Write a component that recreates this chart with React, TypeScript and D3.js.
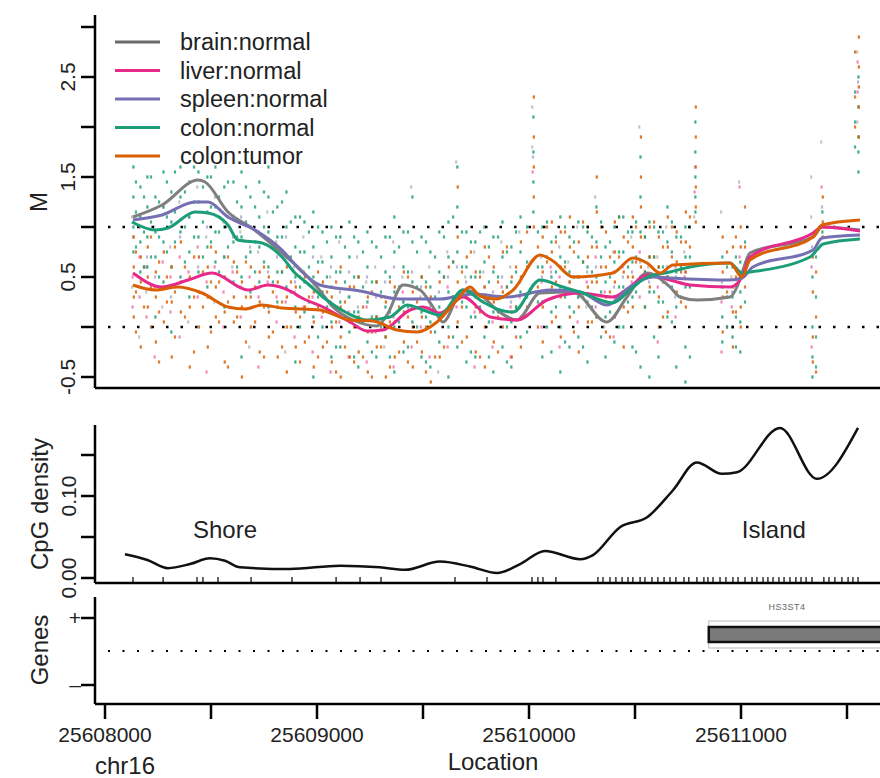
import React from 'react';
import * as d3 from 'd3';

// ---------- axis ticks ----------
const X_TICKS = [25608000, 25608500, 25609000, 25609500, 25610000, 25610500, 25611000, 25611500];
const X_TICK_LABELS = ['25608000', '', '25609000', '', '25610000', '', '25611000', ''];
const M_TICKS = [-0.5, 0, 0.5, 1, 1.5, 2, 2.5, 3];
const M_TICK_LABELS = ['-0.5', '', '0.5', '', '1.5', '', '2.5', ''];
const M_REF_LINES = [0, 1];
const D_TICKS = [0, 0.05, 0.1, 0.15];
const D_TICK_LABELS = ['0.00', '', '0.10', ''];

// ---------- series ----------
const SERIES_NAMES = ['brain:normal', 'liver:normal', 'spleen:normal', 'colon:normal', 'colon:tumor'];
const SERIES_COLORS = ['#7f7f7f', '#e7298a', '#7570b3', '#1b9e77', '#d95f02'];

// smoothed methylation lines: [position, M]
const BRAIN = [[25608132,1.10],[25608269,1.22],[25608439,1.47],[25608472,1.45],[25608580,1.15],[25608693,0.99],[25608835,0.74],[25608920,0.58],[25609000,0.40],[25609075,0.20],[25609170,0.07],[25609283,0.01],[25609330,0.12],[25609406,0.42],[25609486,0.37],[25609547,0.20],[25609594,0.05],[25609689,0.37],[25609783,0.30],[25609849,0.17],[25609943,0.07],[25610052,0.34],[25610208,0.35],[25610368,0.05],[25610462,0.30],[25610557,0.54],[25610665,0.40],[25610712,0.30],[25610792,0.27],[25610948,0.30],[25610981,0.40],[25611005,0.54],[25611042,0.74],[25611340,0.90],[25611382,1.00],[25611561,0.97]];
const LIVER = [[25608132,0.54],[25608269,0.40],[25608392,0.47],[25608505,0.54],[25608675,0.37],[25608769,0.42],[25608882,0.35],[25608920,0.30],[25609028,0.20],[25609156,0.05],[25609236,-0.04],[25609311,-0.03],[25609439,0.17],[25609500,0.20],[25609580,0.14],[25609689,0.30],[25609816,0.10],[25609943,0.07],[25610085,0.27],[25610241,0.34],[25610396,0.30],[25610476,0.40],[25610557,0.52],[25610665,0.47],[25610759,0.42],[25610948,0.40],[25611005,0.50],[25611042,0.70],[25611340,0.94],[25611382,1.00],[25611561,0.96]];
const SPLEEN = [[25608132,1.07],[25608269,1.12],[25608425,1.25],[25608486,1.25],[25608580,1.10],[25608708,0.97],[25608835,0.77],[25608920,0.57],[25609014,0.42],[25609203,0.36],[25609392,0.28],[25609580,0.28],[25609736,0.33],[25609896,0.30],[25610099,0.37],[25610241,0.35],[25610368,0.22],[25610476,0.40],[25610585,0.50],[25610665,0.49],[25610948,0.47],[25611005,0.49],[25611056,0.60],[25611340,0.77],[25611382,0.89],[25611561,0.92]];
const COLON = [[25608127,1.05],[25608236,0.97],[25608297,0.99],[25608425,1.15],[25608486,1.14],[25608580,1.02],[25608627,0.87],[25608741,0.84],[25608835,0.70],[25608896,0.54],[25608953,0.44],[25609028,0.30],[25609142,0.14],[25609236,0.07],[25609344,0.10],[25609425,0.22],[25609500,0.17],[25609580,0.12],[25609689,0.37],[25609783,0.25],[25609863,0.17],[25609925,0.15],[25610052,0.47],[25610160,0.40],[25610241,0.35],[25610396,0.24],[25610476,0.37],[25610557,0.50],[25610665,0.55],[25610759,0.60],[25610948,0.64],[25611005,0.54],[25611042,0.55],[25611326,0.70],[25611358,0.77],[25611387,0.83],[25611561,0.88]];
const TUMOR = [[25608132,0.42],[25608236,0.37],[25608344,0.40],[25608458,0.34],[25608580,0.20],[25608660,0.18],[25608741,0.22],[25608835,0.19],[25609014,0.17],[25609156,0.07],[25609264,0.06],[25609377,-0.03],[25609472,-0.05],[25609566,0.05],[25609660,0.27],[25609722,0.40],[25609769,0.31],[25609849,0.28],[25609925,0.37],[25610052,0.72],[25610113,0.66],[25610208,0.50],[25610396,0.54],[25610490,0.69],[25610557,0.64],[25610618,0.54],[25610679,0.62],[25610948,0.64],[25611005,0.50],[25611042,0.67],[25611340,0.90],[25611382,1.02],[25611561,1.07]];
const SERIES_LINES = [BRAIN, LIVER, SPLEEN, COLON, TUMOR];

// individual CpG measurements (one column per CpG site)
const SITE_POS = [25608132,25608165,25608198,25608236,25608274,25608311,25608354,25608396,25608439,25608481,25608519,25608561,25608604,25608642,25608684,25608726,25608769,25608811,25608854,25608896,25608939,25608981,25609024,25609066,25609108,25609151,25609193,25609236,25609278,25609321,25609363,25609406,25609448,25609491,25609533,25609575,25609618,25609660,25609703,25609745,25609788,25609830,25609873,25609915,25609958,25610019,25610061,25610104,25610146,25610189,25610231,25610274,25610316,25610359,25610401,25610443,25610486,25610524,25610566,25610609,25610651,25610693,25610736,25610783,25610910,25610958,25610995,25611335,25611382,25611552];
const PTS_TUMOR = [[0.9,0.6,0.3,0.1],[0.7,0.45,-0.2],[0.8,0.5,0.2],[0.55,0.3,-0.15],[0.75,0.4,0.05],[0.6,0.25,-0.3],[0.85,0.45,0.15],[0.5,0.2,-0.4],[0.7,0.35,0.0],[0.6,0.3,-0.2],[0.75,0.4,0.1],[0.5,0.15,-0.35],[0.65,0.3,0.05],[0.45,0.2,-0.5],[0.6,0.3,0.0],[0.55,0.25,-0.25],[0.5,0.15,-0.1],[0.45,0.2,-0.3],[0.6,0.3,0.0,-0.45],[0.4,0.15,-0.2],[0.5,0.2,-0.15],[0.35,0.05,-0.4],[0.45,0.15,-0.2],[0.3,0.0,-0.35],[0.6,0.2,-0.1,-0.5],[0.4,0.05,-0.3],[0.5,0.1,-0.25],[0.3,-0.05,-0.45],[0.45,0.1,-0.2],[0.25,-0.1,-0.5],[0.4,0.05,-0.3],[0.55,0.15,-0.15],[0.35,0.0,-0.4],[0.5,0.1,-0.25],[0.3,-0.05,-0.55],[0.45,0.1,-0.3],[0.6,0.2,-0.1],[1.4,0.9,0.45,0.05],[0.7,0.3,-0.1],[0.55,0.2,-0.25],[0.8,0.4,0.0,-0.4],[0.6,0.25,-0.15],[0.75,0.35,0.0],[0.5,0.15,-0.3],[0.85,0.5,0.1,-0.2],[2.3,1.9,1.6,1.3,1.0],[0.9,0.55,0.2,-0.15],[1.05,0.75,0.4,0.05],[0.95,0.6,0.3,-0.1],[1.1,0.8,0.45,0.1],[0.85,0.5,0.2,-0.25],[1.0,0.7,0.4,0.05],[1.5,1.15,0.8,0.45,0.1],[0.95,0.6,0.3,-0.05],[1.05,0.75,0.45,0.1],[0.9,0.55,0.2,-0.2],[1.1,0.8,0.5,0.2],[1.9,1.5,1.2,0.9,0.6],[1.0,0.7,0.4],[0.9,0.6,0.3,0.0],[1.1,0.8,0.5,0.15],[0.95,0.65,0.35],[1.15,0.85,0.55,0.2],[2.2,1.9,1.6,1.4,1.2,1.05],[0.9,0.55,0.3,-0.05],[0.8,0.4,0.15,-0.2],[1.0,0.8,0.5,0.2,0.0],[0.7,0.35,-0.1,-0.35],[1.3,1.05,0.9],[2.9,2.6,2.4,2.2,1.9]];
const PTS_COLON = [[1.6,1.3,1.0,0.75],[1.4,1.1,0.85,0.55],[1.5,1.2,0.9,0.6],[1.3,0.95,0.7,0.1],[1.55,1.2,0.85,0.45],[1.35,1.05,0.6,-0.05],[1.6,1.3,0.95,0.5],[1.45,1.1,0.75,0.3],[1.55,1.25,0.9,0.55],[1.5,1.15,0.8,0.4],[1.6,1.2,0.95,0.65],[1.4,1.0,0.7,0.2],[1.45,1.1,0.85,0.45],[1.55,1.2,0.9,0.5,-0.3],[1.3,1.0,0.75,0.35],[1.45,1.1,0.8,0.45],[1.6,1.3,0.95,0.6,0.2],[1.2,0.9,0.55,0.25],[1.35,1.0,0.7,0.4],[1.1,0.8,0.5,0.2,-0.35],[1.05,0.75,0.45,0.15],[1.15,0.8,0.5,0.1,-0.5],[0.95,0.65,0.35,0.0],[1.0,0.7,0.4,0.05,-0.3],[0.9,0.55,0.25,-0.2],[1.05,0.7,0.3,-0.05],[0.85,0.5,0.15,-0.4],[0.95,0.6,0.25,-0.15],[0.8,0.45,0.1,-0.3],[0.9,0.55,0.2,-0.1],[1.1,0.75,0.35,0.0,-0.45],[0.95,0.6,0.25,-0.25],[1.3,0.85,0.45,0.05],[0.9,0.5,0.15,-0.3],[0.75,0.4,0.05,-0.4],[0.95,0.55,0.2,-0.15],[1.05,0.7,0.35,0.0,-0.5],[1.6,1.2,0.75,0.3,-0.2],[0.95,0.6,0.2,-0.35],[0.85,0.5,0.1,-0.3],[1.0,0.65,0.3,-0.1],[0.9,0.55,0.15,-0.45],[1.05,0.7,0.3,-0.2],[0.8,0.45,0.05,-0.4],[1.1,0.75,0.35,-0.1],[2.1,1.75,1.45,1.15],[1.0,0.6,0.25,-0.3],[0.85,0.5,0.15,-0.25],[1.1,0.7,0.4,0.0,-0.45],[0.9,0.55,0.2,-0.2],[1.05,0.7,0.3,-0.1],[0.95,0.6,0.25,-0.35],[1.2,0.85,0.5,0.1],[0.8,0.45,0.1,-0.3],[1.0,0.65,0.3,-0.15],[1.1,0.75,0.4,0.0],[0.95,0.65,0.3,-0.2],[1.7,1.3,0.95,0.5,-0.4],[1.05,0.7,0.35,-0.5],[0.95,0.6,0.25,-0.3],[1.2,0.85,0.5,0.1],[0.9,0.55,0.2,-0.4],[1.0,0.7,0.4,-0.2,-0.55],[2.05,1.75,1.5,1.3,1.15],[0.7,0.4,0.1,-0.15],[0.6,0.3,0.0,-0.1],[0.65,0.35,0.05,-0.25],[0.9,0.5,0.0,-0.3,-0.5],[1.15,0.95],[2.5,2.2,1.9,1.75,1.55]];
const PTS_LIVER = [[0.5,0.2],[0.7,0.3],[0.6,0.1],[0.4,-0.3],[0.65],[0.5,0.15],[0.7,-0.1],[0.55],[0.8,0.3],[0.45,-0.45],[0.6],[0.35,0.0],[0.55],[0.4,0.1],[0.5],[0.3,-0.4],[0.45],[0.3,0.05],[0.25],[0.35,-0.1],[0.2],[0.3,-0.25],[0.1],[0.25,-0.45],[0.05],[0.15,-0.3],[0.0],[0.2,-0.35],[-0.05],[0.3],[0.1,-0.4],[0.35],[0.2,-0.2],[0.0],[0.25,-0.3],[0.1],[0.4,-0.2],[1.0,0.2],[0.35],[0.15,-0.4],[0.25],[0.05,-0.2],[0.4],[0.2,-0.3],[0.3],[1.55],[0.45,0.0],[0.6],[0.5,-0.2],[0.35],[0.5,0.05],[0.45],[0.7,0.2],[0.35],[0.55,-0.1],[0.6],[0.45],[0.75,0.3],[0.5],[0.4,-0.15],[0.55],[0.6,0.1],[0.5],[1.35],[0.25,-0.25],[0.2],[0.7,1.4],[0.6,-0.2],[1.4],[2.65,2.35]];
const PTS_BRAIN = [[1.1,0.4],[-0.1],[0.35],[1.0],[0.2],[0.8],[1.25],[0.05],[1.4],[0.9],[0.25],[1.05],[0.6],[0.95],[-0.2],[0.75],[1.15],[0.85],[-0.25],[0.6],[0.9],[0.4],[0.7],[0.5],[0.85],[0.3],[0.7],[0.45],[0.6],[-0.2],[0.85],[0.5],[1.4],[0.3],[0.6],[-0.45],[0.75],[1.65],[0.5],[0.75],[0.55],[0.3],[0.85],[0.6],[0.95],[2.2,1.8],[0.7],[0.35],[0.8],[0.65],[1.0],[0.2],[1.3],[0.0],[0.75],[0.35],[0.9],[2.0],[0.6],[0.7],[1.0],[0.3],[0.75],[1.1],[1.15],[0.5],[1.45],[1.5,1.1],[1.85],[2.75,2.05]];
const PTS_SPLEEN = [[0.9],[1.0],[0.7],[0.5],[1.2],[0.3],[0.9],[1.1],[0.6],[1.0],[1.3],[0.7],[0.9],[1.1],[0.8],[0.95],[0.55],[0.7],[0.9],[0.45],[0.55],[0.7],[0.3],[0.6],[0.35],[0.55],[0.2],[0.5],[0.3],[0.45],[0.6],[0.25],[0.55],[0.4],[0.2],[0.35],[0.5],[0.6],[0.45],[0.3],[0.4],[0.35],[0.5],[0.25],[0.45],[1.7],[0.5],[0.55],[0.4],[0.45],[0.3],[0.55],[0.6],[0.25],[0.4],[0.5],[0.55],[0.65],[0.45],[0.5],[0.6],[0.5],[0.55],[1.6],[0.45],[0.35],[0.55],[0.8],[1.2],[2.45]];
const SERIES_POINTS = [PTS_BRAIN, PTS_LIVER, PTS_SPLEEN, PTS_COLON, PTS_TUMOR];
const POINT_OPACITY = [0.45, 0.55, 0.5, 0.85, 0.85];

// further CpG sites: [position, colon:tumor values, colon:normal values]
const SITES_B = [
  [25608146,[0.75,0.35,-0.05],[1.45,1.15,0.8]],[25608184,[0.6,0.2],[1.3,0.95,0.6]],[25608217,[0.9,0.4,0.0],[1.5,1.05,0.7]],
  [25608255,[0.65,0.15,-0.35],[1.25,0.9,0.5]],[25608292,[0.5,0.25],[1.45,1.1,0.75]],[25608330,[0.8,0.35,-0.1],[1.55,1.15,0.85]],
  [25608377,[0.6,0.1],[1.35,1.0,0.65]],[25608420,[0.7,0.3,-0.25],[1.6,1.25,0.9]],[25608462,[0.55,0.2],[1.4,1.05,0.7]],
  [25608500,[0.8,0.45,-0.05],[1.5,1.2,0.85]],[25608538,[0.45,0.05],[1.3,0.95,0.55]],[25608580,[0.7,0.25,-0.4],[1.45,1.1,0.8]],
  [25608623,[0.55,0.1],[1.25,0.9,0.6]],[25608665,[0.65,0.3,-0.15],[1.4,1.05,0.7]],[25608708,[0.4,0.05],[1.2,0.85,0.55]],
  [25608750,[0.6,0.2,-0.3],[1.35,1.0,0.65]],[25608792,[0.35,-0.05],[1.15,0.8,0.45]],[25608835,[0.55,0.25,-0.2],[1.25,0.9,0.55]],
  [25608877,[0.45,0.0],[1.05,0.7,0.35]],[25608920,[0.5,0.1,-0.35],[1.1,0.75,0.4,0.0]],[25608962,[0.3,-0.1],[0.95,0.6,0.25]],
  [25609005,[0.55,0.2,-0.3],[1.0,0.65,0.3,-0.1]],[25609047,[0.35,-0.15],[0.85,0.5,0.2]],[25609090,[0.45,0.05,-0.45],[0.9,0.55,0.2,-0.2]],
  [25609132,[0.25,-0.2],[0.8,0.45,0.1]],[25609175,[0.4,0.0,-0.35],[0.9,0.5,0.15,-0.3]],[25609217,[0.2,-0.3],[0.75,0.4,0.05]],
  [25609259,[0.35,-0.05,-0.5],[0.85,0.45,0.1,-0.25]],[25609302,[0.3,-0.2],[0.7,0.35,0.0]],[25609344,[0.45,0.05,-0.4],[0.9,0.5,0.15,-0.3]],
  [25609387,[0.2,-0.25],[0.8,0.4,0.05]],[25609429,[0.5,0.1,-0.35],[0.95,0.55,0.2,-0.2]],[25609472,[0.25,-0.15],[0.75,0.4,0.0]],
  [25609514,[0.4,0.0,-0.45],[0.85,0.45,0.1,-0.35]],[25609557,[0.15,-0.3],[0.7,0.3,-0.05]],[25609599,[0.5,0.15,-0.2],[0.9,0.5,0.15]],
  [25609642,[0.65,0.3],[1.1,0.65,0.3,-0.1]],[25609684,[0.55,0.2,-0.15],[0.95,0.6,0.25]],[25609726,[0.75,0.35],[0.85,0.5,0.1,-0.25]],
  [25609769,[0.5,0.15,-0.3],[0.95,0.55,0.2]],[25609811,[0.7,0.3],[0.8,0.45,0.05,-0.3]],[25609854,[0.45,0.1,-0.25],[0.9,0.5,0.15]],
  [25609896,[0.8,0.4],[0.75,0.4,0.0,-0.35]],[25609939,[0.6,0.2,-0.1],[0.95,0.55,0.2]],[25609991,[0.95,0.6,0.2],[1.0,0.65,0.3,-0.05]],
  [25610042,[0.8,0.4,0.0],[0.95,0.6,0.25]],[25610085,[1.0,0.65],[1.05,0.7,0.35,0.0]],[25610127,[0.85,0.45,0.1],[0.9,0.55,0.2]],
  [25610170,[0.95,0.6],[1.0,0.65,0.3,-0.15]],[25610212,[0.75,0.35,-0.05],[0.85,0.5,0.15]],[25610255,[1.05,0.65],[1.0,0.65,0.3,-0.2]],
  [25610297,[0.8,0.45,0.05],[0.9,0.55,0.2]],[25610340,[1.0,0.6],[1.05,0.7,0.35,-0.1]],[25610382,[0.7,0.35,-0.1],[0.85,0.5,0.15]],
  [25610425,[1.1,0.7],[1.1,0.75,0.4,0.0]],[25610467,[0.85,0.5,0.15],[0.95,0.6,0.25]],[25610505,[1.0,0.65],[1.05,0.7,0.35,-0.25]],
  [25610547,[0.9,0.55,0.2],[0.9,0.55,0.2]],[25610590,[1.05,0.7],[1.0,0.7,0.35,-0.1]],[25610632,[0.8,0.45,0.1],[0.95,0.6,0.25]],
  [25610674,[1.0,0.7],[1.05,0.75,0.4,0.05]],[25610717,[0.85,0.55,0.25],[0.9,0.6,0.3]],[25610759,[1.1,0.8],[1.0,0.7,0.4,-0.3]],
  [25610934,[0.75,0.35,0.0],[0.6,0.3,0.0]],[25610976,[0.9,0.5,0.15],[0.7,0.4,0.1,-0.2]],[25611019,[1.2,0.8,0.4],[0.85,0.55,0.25]],
  [25611354,[0.55,0.1,-0.45],[0.7,0.3,-0.1,-0.4]],[25611538,[2.75,2.3,2.0],[2.35,2.05,1.8]]
];

// CpG density
const CPG_DENSITY = [[25608094,0.029],[25608200,0.022],[25608297,0.012],[25608401,0.017],[25608495,0.024],[25608566,0.021],[25608637,0.013],[25608873,0.011],[25609108,0.015],[25609297,0.013],[25609415,0.010],[25609580,0.020],[25609722,0.014],[25609849,0.006],[25609958,0.017],[25610075,0.033],[25610241,0.023],[25610302,0.028],[25610429,0.062],[25610557,0.074],[25610679,0.107],[25610792,0.141],[25610910,0.127],[25610981,0.129],[25611184,0.183],[25611358,0.121],[25611552,0.183]];
const CPG_SITES = [25608132,25608274,25608434,25608462,25608533,25608689,25608882,25609090,25609203,25609302,25609651,25609802,25610014,25610042,25610066,25610127,25610325,25610349,25610382,25610410,25610439,25610467,25610490,25610524,25610547,25610580,25610608,25610637,25610665,25610693,25610731,25610754,25610792,25610825,25610844,25610868,25610901,25610929,25610962,25610986,25611019,25611052,25611075,25611104,25611127,25611151,25611179,25611203,25611231,25611259,25611283,25611307,25611335,25611391,25611415,25611443,25611476,25611505,25611528,25611552];
const REGION_LABELS = ['Shore', 'Island'];
const REGION_POS = [25608566, 25611155];

// Genes
const GENE_NAME = 'HS3ST4';
const GENE_START = 25610848;
const GENE_END = 25611900;
const GENE_TICK_LABELS = ['+', '\u2013'];

const FONT = '"Liberation Sans", Arial, Helvetica, sans-serif';

export default function App() {
  const W = 880, H = 778;
  const axX = 95;
  const x = d3.scaleLinear().domain([25608000, 25611000]).range([105, 741]);
  const yM = d3.scaleLinear().domain([-0.5, 3.0]).range([377, 27]);
  const yD = d3.scaleLinear().domain([0, 0.15]).range([578, 455]);
  const geneY = d3.scaleOrdinal<string, number>().domain(GENE_TICK_LABELS).range([618, 685]);

  const line = d3.line<number[]>().x(d => x(d[0])).y(d => yM(d[1])).curve(d3.curveMonotoneX);
  const dline = d3.line<number[]>().x(d => x(d[0])).y(d => yD(d[1])).curve(d3.curveMonotoneX);

  const axisStroke = 2.5;
  const dot = (key: string, px: number, v: number) => (
    <rect key={key} x={px - 1.1} y={yM(v) - 1.6} width={2.2} height={3.2} />
  );

  return (
    <>
      <style>{'body{margin:0;background:#fff}'}</style>
      <svg width={W} height={H} style={{ display: 'block', fontFamily: FONT }}>
        <rect width={W} height={H} fill="#fff" />

        {/* ---------- top panel: points ---------- */}
        {SERIES_POINTS.map((pts, si) => (
          <g key={'pts' + si} fill={SERIES_COLORS[si]} opacity={POINT_OPACITY[si]}>
            {pts.map((vals, ci) => vals.map((v, k) => dot(ci + '_' + k, x(SITE_POS[ci]) + (si - 2) * 0.4, v)))}
          </g>
        ))}
        <g fill={SERIES_COLORS[4]} opacity={0.8}>
          {SITES_B.map((s, ci) => (s[1] as number[]).map((v, k) => dot('bt' + ci + '_' + k, x(s[0] as number), v)))}
        </g>
        <g fill={SERIES_COLORS[3]} opacity={0.8}>
          {SITES_B.map((s, ci) => (s[2] as number[]).map((v, k) => dot('bc' + ci + '_' + k, x(s[0] as number), v)))}
        </g>

        {/* reference dotted lines */}
        {M_REF_LINES.map(v => (
          <line key={'ref' + v} x1={108} x2={W} y1={yM(v)} y2={yM(v)} stroke="#000" strokeWidth={2.5} strokeDasharray="2.5 12" />
        ))}

        {/* smoothed lines */}
        {SERIES_LINES.map((d, i) => (
          <path key={'ln' + i} d={line(d as number[][]) || ''} fill="none" stroke={SERIES_COLORS[i]} strokeWidth={3} strokeLinejoin="round" />
        ))}

        {/* legend */}
        {SERIES_NAMES.map((n, i) => (
          <g key={'lg' + i} transform={`translate(0,${42 + i * 28.5})`}>
            <line x1={115} x2={160} y1={0} y2={0} stroke={i === 0 ? '#6a6a6a' : SERIES_COLORS[i]} strokeWidth={3} />
            <text x={180} y={8} fontSize={23.5} fill="#222">{n}</text>
          </g>
        ))}

        {/* top axes */}
        <line x1={axX} x2={axX} y1={15} y2={388} stroke="#000" strokeWidth={axisStroke} />
        <line x1={axX} x2={W} y1={388} y2={388} stroke="#000" strokeWidth={axisStroke} />
        {M_TICKS.map((t, i) => (
          <g key={'mt' + t}>
            <line x1={axX - 14} x2={axX} y1={yM(t)} y2={yM(t)} stroke="#000" strokeWidth={axisStroke} />
            {M_TICK_LABELS[i] && (
              <text transform={`translate(75,${yM(t)}) rotate(-90)`} textAnchor="middle" fontSize={21} fill="#222">{M_TICK_LABELS[i]}</text>
            )}
          </g>
        ))}
        <text transform={`translate(47,${yM(1.25)}) rotate(-90)`} textAnchor="middle" fontSize={24} fill="#222">M</text>

        {/* ---------- middle panel: CpG density ---------- */}
        <path d={dline(CPG_DENSITY as number[][]) || ''} fill="none" stroke="#111" strokeWidth={2.5} />
        {CPG_SITES.map((p, i) => (
          <line key={'rug' + i} x1={x(p)} x2={x(p)} y1={577} y2={583} stroke="#000" strokeWidth={1.2} />
        ))}
        <line x1={axX} x2={axX} y1={425} y2={583} stroke="#000" strokeWidth={axisStroke} />
        <line x1={axX} x2={W} y1={583} y2={583} stroke="#000" strokeWidth={axisStroke} />
        {D_TICKS.map((t, i) => (
          <g key={'dt' + t}>
            <line x1={axX - 14} x2={axX} y1={yD(t)} y2={yD(t)} stroke="#000" strokeWidth={axisStroke} />
            {D_TICK_LABELS[i] && (
              <text transform={`translate(76,${yD(t)}) rotate(-90)`} textAnchor="middle" fontSize={21} fill="#222">{D_TICK_LABELS[i]}</text>
            )}
          </g>
        ))}
        <text transform={`translate(48,504) rotate(-90)`} textAnchor="middle" fontSize={24} fill="#222">CpG density</text>
        {REGION_LABELS.map((l, i) => (
          <text key={l} x={x(REGION_POS[i])} y={538} textAnchor="middle" fontSize={24} fill="#222">{l}</text>
        ))}

        {/* ---------- bottom panel: genes ---------- */}
        <line x1={108} x2={W} y1={651} y2={651} stroke="#000" strokeWidth={2} strokeDasharray="2 12.5" />
        <rect x={x(GENE_START)} y={621} width={x(GENE_END) - x(GENE_START)} height={27} fill="none" stroke="#bbb" strokeWidth={1} />
        <rect x={x(GENE_START)} y={627} width={x(GENE_END) - x(GENE_START)} height={15} fill="#7a7a7a" stroke="#111" strokeWidth={2.5} />
        <text x={787} y={610} textAnchor="middle" fontSize={9} fill="#666" letterSpacing={0.5}>{GENE_NAME}</text>
        <line x1={axX} x2={axX} y1={597} y2={704} stroke="#000" strokeWidth={axisStroke} />
        <line x1={axX} x2={W} y1={704} y2={704} stroke="#000" strokeWidth={axisStroke} />
        {GENE_TICK_LABELS.map(l => (
          <g key={'g' + l}>
            <line x1={axX - 14} x2={axX} y1={geneY(l)} y2={geneY(l)} stroke="#000" strokeWidth={axisStroke} />
            <text x={75} y={geneY(l) + 7} textAnchor="middle" fontSize={21} fill="#222">{l}</text>
          </g>
        ))}
        <text transform={`translate(48,650) rotate(-90)`} textAnchor="middle" fontSize={24} fill="#222">Genes</text>

        {/* x axis */}
        {X_TICKS.map((t, i) => (
          <g key={'xt' + t}>
            <line x1={x(t)} x2={x(t)} y1={704} y2={719} stroke="#000" strokeWidth={axisStroke} />
            {X_TICK_LABELS[i] && (
              <text x={x(t)} y={742} textAnchor="middle" fontSize={21} fill="#222">{X_TICK_LABELS[i]}</text>
            )}
          </g>
        ))}
        <text x={125} y={774} textAnchor="middle" fontSize={24} fill="#222">chr16</text>
        <text x={493} y={770} textAnchor="middle" fontSize={24} fill="#222">Location</text>
      </svg>
    </>
  );
}
